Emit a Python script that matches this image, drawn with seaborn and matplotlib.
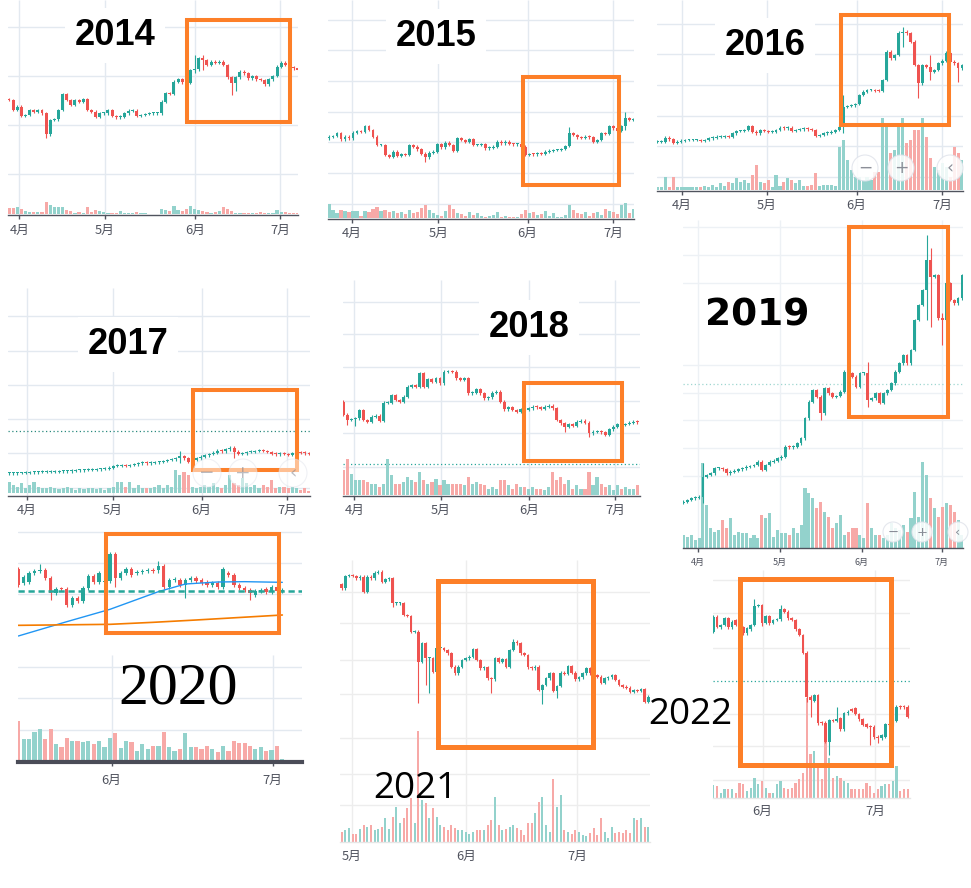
import numpy as np
import matplotlib
matplotlib.use("Agg")
import matplotlib.pyplot as plt
import matplotlib.transforms as mtrans
from matplotlib.patches import Rectangle, Circle
import seaborn as sns

# ---------------------------------------------------------------- data
# prices / volumes are in screen-read units (higher value = higher price)
months_amjj = ['4月', '5月', '6月', '7月']
months_jj = ['6月', '7月']
months_mjj = ['5月', '6月', '7月']

open0_2014 = 703
close_2014 = [700, 670, 680, 652, 655, 670, 665, 670, 660, 597,
              640, 642, 670, 717, 700, 685, 700, 695, 702, 670,
              665, 650, 660, 660, 670, 652, 648, 650, 660, 668,
              668, 652, 655, 658, 660, 660, 660, 695, 720, 718,
              755, 763, 753, 752, 790, 792, 825, 820, 805, 815,
              812, 815, 805, 768, 750, 768, 785, 780, 765, 772,
              762, 760, 747, 762, 772, 800, 812, 805, 797, 795, 790]
vol_2014 = [18, 18, 22, 15, 8, 5, 5, 5, 5, 35,
            28, 22, 20, 20, 12, 8, 4, 5, 3, 22,
            5, 12, 8, 5, 4, 4, 3, 8, 3, 3,
            3, 6, 3, 3, 0, 0, 0, 15, 12, 8,
            25, 12, 8, 15, 25, 15, 12, 10, 5, 3,
            5, 10, 22, 15, 10, 4, 3, 3, 2, 2,
            3, 5, 4, 4, 4, 12, 5, 5, 3, 3, 4]

open0_2015 = 585
close_2015 = [590, 592, 600, 582, 590, 585, 602, 607, 605, 622,
              610, 590, 565, 565, 535, 530, 545, 532, 537, 535,
              565, 560, 552, 538, 528, 542, 545, 568, 558, 572,
              565, 548, 585, 580, 575, 582, 565, 565, 568, 555,
              557, 560, 575, 570, 575, 568, 567, 568, 560, 535,
              538, 537, 540, 538, 545, 548, 550, 550, 553, 562,
              600, 595, 588, 587, 590, 588, 575, 580, 600, 598,
              622, 615, 607, 622, 645, 640, 642]
vol_2015 = [43, 25, 15, 25, 22, 18, 22, 22, 8, 22,
            18, 28, 35, 22, 25, 18, 22, 15, 20, 12,
            25, 15, 18, 30, 40, 25, 15, 10, 8, 22,
            40, 28, 15, 12, 8, 20, 10, 15, 8, 5,
            8, 10, 18, 5, 8, 5, 5, 5, 12, 25,
            15, 18, 10, 12, 22, 8, 15, 5, 5, 10,
            40, 25, 15, 12, 18, 8, 15, 20, 10, 28,
            22, 18, 12, 40, 45, 15, 28]

open0_2016 = 575
close_2016 = [575, 575, 587, 582, 572, 575, 578, 580, 580, 580,
              580, 577, 580, 585, 587, 590, 590, 592, 590, 600,
              607, 607, 610, 622, 605, 600, 610, 607, 605, 605,
              610, 617, 615, 617, 607, 610, 612, 614, 612, 610,
              592, 595, 600, 602, 605, 610, 620, 680, 682, 684,
              688, 715, 725, 730, 730, 728, 727, 760, 845, 825,
              835, 902, 905, 900, 875, 805, 750, 805, 800, 785,
              790, 810, 818, 842, 815, 810, 795, 805]
vol_2016 = [10, 10, 40, 10, 40, 8, 10, 8, 10, 8,
            10, 8, 12, 10, 15, 8, 20, 12, 25, 20,
            35, 25, 30, 20, 45, 75, 25, 20, 30, 10,
            45, 12, 25, 35, 30, 20, 30, 12, 12, 15,
            50, 12, 15, 15, 15, 12, 130, 150, 90, 60,
            40, 40, 30, 40, 30, 55, 55, 215, 195, 110,
            120, 190, 215, 140, 150, 180, 180, 215, 160, 95,
            70, 60, 80, 70, 40, 130, 110, 90]

open0_2017 = 420
close_2017 = [420, 420, 421, 421, 422, 423, 423, 424, 425, 425,
              425, 425, 426, 426, 426, 428, 429, 429, 430, 431,
              431, 432, 433, 434, 437, 442, 443, 444, 442, 445,
              447, 450, 452, 450, 452, 453, 454, 457, 460, 462,
              465, 472, 465, 455, 460, 465, 470, 474, 478, 482,
              488, 486, 492, 497, 485, 478, 480, 484, 485, 487,
              488, 487, 484, 479, 477, 479, 478, 475, 481, 483,
              482, 480, 479]
vol_2017 = [35, 25, 20, 30, 15, 25, 35, 20, 15, 15,
            20, 15, 12, 15, 20, 15, 10, 15, 12, 15,
            15, 12, 15, 10, 15, 20, 35, 35, 20, 35,
            15, 25, 15, 15, 15, 20, 25, 15, 25, 20,
            70, 55, 65, 55, 20, 15, 20, 25, 20, 30,
            20, 15, 25, 55, 30, 25, 45, 30, 20, 25,
            15, 25, 20, 40, 15, 20, 20, 15, 20, 15,
            10, 15, 8]

open0_2018 = 605
close_2018 = [565, 550, 552, 555, 580, 550, 545, 560, 563, 548,
              602, 602, 625, 610, 605, 620, 650, 655, 650, 690,
              650, 672, 665, 675, 660, 695, 697, 695, 675, 670,
              675, 630, 632, 642, 630, 615, 618, 632, 635, 605,
              582, 588, 580, 575, 582, 580, 585, 590, 588, 584,
              590, 593, 585, 550, 540, 530, 538, 532, 545, 548,
              542, 510, 515, 515, 513, 505, 522, 530, 538, 535,
              538, 542, 545, 543]
vol_2018 = [75, 110, 65, 45, 45, 45, 40, 35, 35, 25,
            35, 110, 60, 35, 35, 40, 55, 45, 40, 70,
            45, 35, 40, 50, 30, 45, 35, 35, 35, 35,
            30, 55, 35, 40, 35, 30, 20, 25, 20, 45,
            45, 30, 20, 35, 25, 25, 20, 25, 20, 20,
            15, 25, 70, 45, 55, 35, 45, 20, 30, 20,
            20, 70, 30, 55, 35, 25, 30, 15, 30, 20,
            25, 20, 20, 30]

open0_2019 = 152
close_2019 = [155, 160, 165, 167, 170, 230, 235, 240, 255, 255,
              252, 240, 245, 248, 252, 255, 260, 262, 265, 275,
              250, 265, 275, 278, 285, 290, 320, 318, 320, 330,
              345, 405, 455, 490, 470, 420, 495, 480, 470, 472,
              485, 545, 540, 530, 500, 540, 540, 460, 465, 480,
              452, 480, 490, 510, 545, 570, 595, 570, 610, 700,
              745, 790, 880, 830, 835, 705, 700, 810, 760, 750,
              765, 835]
vol_2019 = [40, 35, 40, 25, 30, 255, 130, 60, 50, 55,
            85, 60, 90, 40, 50, 45, 45, 30, 40, 30,
            100, 90, 105, 35, 55, 45, 45, 40, 60, 45,
            70, 180, 165, 150, 120, 140, 110, 95, 60, 75,
            100, 40, 50, 60, 60, 40, 30, 135, 60, 40,
            40, 30, 40, 75, 60, 55, 70, 50, 90, 170,
            95, 260, 220, 150, 120, 95, 125, 135, 130, 110,
            85, 40]

open_2020 = [852, 810, 815, 840, 847, 850, 825, 780, 793, 793,
             745, 765, 758, 795, 832, 815, 815, 817, 897, 825,
             840, 852, 840, 843, 847, 850, 850, 862, 800, 820,
             820, 805, 820, 827, 820, 815, 805, 812, 800, 842,
             835, 805, 797, 790, 775, 787, 792, 785, 798, 788]
close_2020 = [805, 830, 840, 847, 850, 825, 780, 793, 792, 745,
              765, 758, 795, 832, 815, 842, 817, 897, 825, 840,
              852, 835, 843, 847, 850, 848, 862, 800, 820, 822,
              805, 820, 827, 817, 812, 805, 812, 800, 852, 835,
              805, 797, 790, 782, 787, 790, 785, 798, 788, 790]
vol_2020 = [120, 65, 65, 85, 95, 65, 95, 50, 40, 68,
            58, 58, 55, 60, 50, 58, 40, 68, 82, 38,
            60, 55, 30, 50, 35, 45, 45, 85, 40, 30,
            35, 82, 42, 40, 35, 45, 35, 25, 45, 28,
            58, 52, 52, 45, 35, 40, 30, 32, 45, 5]
ma_fast_at = [0, 9, 17, 26, 31, 37, 42, 49]
ma_fast_2020 = [652, 695, 732, 785, 808, 814, 815, 813]
ma_slow_at = [0, 17, 25, 33, 49]
ma_slow_2020 = [684, 687, 693, 700, 715]

open0_2021 = 928
close_2021 = [915, 952, 955, 952, 945, 950, 905, 950, 945, 962,
              965, 935, 942, 945, 870, 870, 870, 835, 832, 785,
              785, 695, 750, 705, 705, 665, 735, 735, 730, 720,
              680, 660, 680, 700, 705, 710, 732, 700, 675, 678,
              645, 642, 705, 695, 702, 680, 730, 755, 750, 720,
              715, 678, 675, 680, 610, 625, 645, 660, 608, 622,
              662, 658, 682, 662, 642, 648, 660, 675, 660, 655,
              650, 632, 645, 648, 655, 640, 625, 620, 617, 605,
              610, 608, 612, 575, 590]
vol_2021 = [30, 35, 40, 22, 22, 38, 50, 45, 50, 35,
            38, 45, 70, 38, 75, 105, 55, 70, 100, 130,
            55, 333, 125, 115, 70, 100, 75, 50, 45, 35,
            50, 40, 35, 35, 30, 22, 30, 35, 35, 35,
            50, 65, 133, 50, 35, 38, 45, 50, 40, 35,
            20, 55, 55, 85, 118, 133, 50, 30, 187, 105,
            140, 35, 30, 22, 35, 30, 20, 18, 25, 40,
            20, 72, 30, 12, 45, 25, 30, 25, 35, 25,
            70, 65, 70, 45, 45]

open_2022 = [815, 860, 828, 835, 855, 828, 850, 830, 828, 810,
             822, 835, 892, 895, 842, 862, 842, 850, 852, 882,
             875, 855, 850, 822, 805, 752, 620, 608, 625, 542,
             542, 485, 550, 548, 555, 522, 570, 582, 585, 568,
             552, 538, 532, 530, 500, 495, 500, 538, 535, 548,
             590, 590, 590]
close_2022 = [860, 830, 835, 855, 828, 845, 835, 810, 810, 825,
              835, 892, 895, 842, 862, 840, 850, 852, 882, 875,
              855, 850, 822, 805, 752, 620, 610, 625, 540, 540,
              485, 550, 548, 552, 522, 570, 575, 578, 568, 552,
              535, 530, 530, 498, 495, 505, 538, 535, 548, 590,
              588, 588, 560]
vol_2022 = [38, 35, 15, 25, 25, 25, 15, 45, 40, 20,
            28, 60, 40, 50, 30, 15, 15, 40, 50, 30,
            25, 30, 45, 55, 75, 300, 130, 140, 95, 55,
            190, 120, 60, 65, 60, 50, 45, 25, 25, 25,
            25, 45, 35, 15, 25, 35, 40, 40, 50, 95,
            20, 25, 25]

# ---------------------------------------------------------------- style
W, H = 971, 888
UP, DOWN = '#26a69a', '#ef5350'
UP_V, DOWN_V = '#93d2cc', '#f7a9a7'
GRID = '#e3e9f0'
GRID2 = '#ededed'
ORANGE = '#fd7f28'
LABC = '#50535e'

sns.set_theme(style="white")
plt.rcParams['font.family'] = ['Noto Sans CJK JP', 'DejaVu Sans']

fig = plt.figure(figsize=(W / 100, H / 100), dpi=100)
fig.patch.set_facecolor('white')
px = mtrans.Affine2D().scale(1, -1).translate(0, H)  # figure pixels, y from top

panels = [
    dict(crop=(0, 0), box=(8, 298, 0, 215), zx=(27, 893), open0=open0_2014, close=close_2014,
         vol=vol_2014, vbase=642, grid=[82, 228, 375, 522], ticks=[58, 315, 585, 840],
         labels=months_amjj, laby=229,
         wicks={9: (585, 660), 45: (780, 835), 47: (790, 835), 54: (715, 768), 55: (728, 770)}),
    dict(crop=(320, 0), box=(328, 634, 0, 219), zx=(27, 940), open0=open0_2015, close=close_2015,
         vol=vol_2015, vbase=655, grid=[60, 150, 243, 335, 427, 520, 612], ticks=[95, 355, 623, 880],
         labels=months_amjj, laby=232,
         wicks={24: (515, 545), 60: (560, 620), 74: (610, 665)}),
    dict(crop=(650, 0), box=(657, 963, 0, 191), zx=(22, 936), open0=open0_2016, close=close_2016,
         vol=vol_2016, vbase=570, grid=[72, 162, 255, 348, 438, 530], ticks=[95, 350, 620, 877],
         labels=months_amjj, laby=204,
         wicks={47: (600, 715), 62: (860, 920), 66: (705, 800), 69: (760, 835), 76: (755, 810)}),
    dict(crop=(0, 280), box=(8, 310, 288, 496), zx=(27, 927), open0=open0_2017, close=close_2017,
         vol=vol_2017, vbase=640, grid=[108, 212, 316, 418, 520, 625], ticks=[80, 338, 605, 862],
         labels=months_amjj, laby=509, dotted=(453, '#2a8a7e'),
         wicks={41: (450, 488), 43: (452, 470), 54: (465, 500)}),
    dict(crop=(320, 270), box=(343, 640, 280, 496), zx=(70, 952), open0=open0_2018, close=close_2018,
         vol=vol_2018, vbase=676, grid=[95, 193, 292, 392, 490, 590], ticks=[103, 362, 628, 886],
         labels=months_amjj, laby=509, dotted=(583, '#26a69a'),
         wicks={1: (535, 570), 3: (532, 560), 55: (515, 540), 61: (500, 520)}),
    dict(crop=(670, 220), box=(683, 963, 220, 548), zx=(40, 876), open0=open0_2019, close=close_2019,
         vol=vol_2019, vbase=985, grid=[20, 105, 188, 435, 520, 600, 685, 767], ticks=[85, 330, 575, 815],
         labels=months_amjj, laby=561, labfs=6.5, dotted=(493, '#9fd6d0'), grid_color='#edf1f5',
         wicks={5: (150, 270), 35: (400, 470), 47: (440, 575), 62: (700, 955), 63: (680, 915),
                66: (625, 720)}),
    dict(crop=(0, 520), box=(18, 302, 530, 762), zx=(55, 847), open=open_2020, close=close_2020,
         vol=vol_2020, vbase=722, grid=[35, 130, 222, 440, 535, 630], ticks=[335, 818],
         labels=months_jj, laby=779, vspan=(405, 727), bw=0.62, wick=6, axis=('#4a4c57', 3.0),
         wicks={4: (845, 867), 6: (760, 830), 9: (742, 795), 18: (800, 900), 26: (840, 878),
                31: (765, 815), 38: (800, 855), 43: (760, 792)}),
    dict(crop=(330, 560), box=(340, 650, 560, 842), zx=(35, 955), open0=open0_2021, close=close_2021,
         vol=vol_2021, vbase=845, grid=[97, 190, 300, 402, 535, 642, 735], ticks=[65, 408, 742],
         labels=months_mjj, laby=855, grid_color=GRID2, axis=('#e6e6e6', 1.0), tick=False,
         vw=0.55,
         wicks={14: (860, 945), 21: (572, 785), 23: (625, 750), 24: (602, 705), 41: (600, 645),
                55: (568, 625), 59: (585, 625), 47: (745, 762)}),
    dict(crop=(640, 570), box=(713, 910, 570, 798), zx=(220, 803), open=open_2022, close=close_2022,
         vol=vol_2022, vbase=683, grid=[30, 128, 235, 432, 528, 630], ticks=[368, 705],
         labels=months_jj, laby=810, dotted=(333, '#26a69a'), grid_color=GRID2,
         axis=('#e6e6e6', 1.0), tick=False, vw=0.6,
         wicks={11: (835, 912), 13: (832, 895), 18: (850, 895), 25: (605, 752), 26: (560, 620),
                28: (535, 625), 31: (445, 552), 33: (548, 590), 42: (475, 532), 44: (480, 500),
                48: (535, 585)}),
]


def draw_panel(cfg):
    ox, oy = cfg['crop']
    L, R, T, B = cfg['box']
    ax = fig.add_axes([L / W, 1 - B / H, (R - L) / W, (B - T) / H])
    ax.patch.set_alpha(0)
    closes = np.asarray(cfg['close'], float)
    n = len(closes)
    if 'open' in cfg:
        opens = np.asarray(cfg['open'], float)
    else:
        opens = np.r_[cfg['open0'], closes[:-1]]
    vol = np.asarray(cfg['vol'], float)
    assert len(opens) == n and len(vol) == n, (n, len(opens), len(vol))
    zx0, zx1 = cfg['zx']
    step = (zx1 - zx0) / (n - 1)

    def idx(zx):
        return (np.asarray(zx, float) - zx0) / step

    ax.set_xlim(idx(3 * (L - ox)), idx(3 * (R - ox)))
    ax.set_ylim(1000 - 3 * (B - oy), 1000 - 3 * (T - oy))
    gc = cfg.get('grid_color', GRID)
    for zy in cfg['grid']:
        ax.axhline(1000 - zy, color=gc, lw=1.0, zorder=0)
    vt, vb = cfg.get('vspan', (3 * (T - oy), 3 * (B - oy)))
    ax.vlines(idx(cfg['ticks']), 1000 - vb, 1000 - vt, color=gc, lw=1.0, zorder=0)
    if 'dotted' in cfg:
        zy, c = cfg['dotted']
        ax.axhline(1000 - zy, color=c, lw=0.9, ls=(0, (1, 2)), zorder=1)

    x = np.arange(n)
    up = closes >= opens
    ax.bar(x, vol, bottom=1000 - cfg['vbase'], width=cfg.get('vw', 0.78),
           color=np.where(up, UP_V, DOWN_V), linewidth=0, zorder=1)

    w = cfg.get('wick', 4)
    hi = np.maximum(opens, closes) + w
    lo = np.minimum(opens, closes) - w
    for i, (l, h) in cfg.get('wicks', {}).items():
        lo[i] = min(lo[i], l)
        hi[i] = max(hi[i], h)
    cols = np.where(up, UP, DOWN)
    ax.vlines(x, lo, hi, colors=cols, lw=0.8, zorder=2)
    body = np.maximum(np.abs(closes - opens), 3.0)
    ax.bar(x, body, bottom=np.minimum(opens, closes), width=cfg.get('bw', 0.72),
           color=cols, linewidth=0, zorder=3)

    for s in ['top', 'left', 'right']:
        ax.spines[s].set_visible(False)
    ac, alw = cfg.get('axis', (LABC, 1.0))
    ax.spines['bottom'].set_color(ac)
    ax.spines['bottom'].set_linewidth(alw)
    ax.set_yticks([])
    ax.set_xticks(idx(cfg['ticks']))
    ax.set_xticklabels([])
    if cfg.get('tick', True):
        ax.tick_params(axis='x', length=3, width=1, color=LABC, direction='out', bottom=True)
    else:
        ax.tick_params(axis='x', length=0)
    tr = mtrans.blended_transform_factory(ax.transData, px)
    fs = cfg.get('labfs', 9.3)
    for t, lab in zip(idx(cfg['ticks']), cfg['labels']):
        ax.text(t, cfg['laby'] + fs * 0.55, lab, transform=tr, ha='center', va='baseline',
                fontsize=fs, color=LABC, family=['Noto Sans CJK JP', 'DejaVu Sans'], clip_on=False)
    return ax, idx


axes = [draw_panel(p) for p in panels]

# moving averages and dashed line in the 2020 panel
ax20, idx20 = axes[6]
sns.lineplot(x=ma_fast_at, y=ma_fast_2020, ax=ax20, color='#2196f3', lw=1.0, zorder=4)
sns.lineplot(x=ma_slow_at, y=ma_slow_2020, ax=ax20, color='#f57c00', lw=1.2, zorder=4)
ax20.axhline(1000 - 212, color='#26a69a', lw=1.8, ls=(0, (2.5, 1.5)), zorder=4)

# ---------------------------------------------------------------- overlay
ov = fig.add_axes([0, 0, 1, 1], zorder=10)
ov.set_xlim(0, W)
ov.set_ylim(H, 0)
ov.axis('off')
ov.patch.set_alpha(0)

rects = [((187, 20, 290, 122), 2.9), ((523, 77, 619, 185), 2.9), ((841, 15, 949, 125), 2.9),
         ((193, 390, 297, 470), 2.9), ((524, 383, 622, 461), 2.9), ((849, 227, 948, 417), 2.9),
         ((106, 534, 279, 633), 2.9), ((438, 581, 593, 747), 3.6), ((740, 579, 891, 765), 3.6)]
for (x0, y0, x1, y1), lw in rects:
    ov.add_patch(Rectangle((x0, y0), x1 - x0, y1 - y0, fill=False, ec=ORANGE, lw=lw,
                           joinstyle='miter'))

buttons = [((865, 168), 13, 0.85), ((901, 168), 13, 0.85), ((950, 168), 13, 0.85),
           ((207, 473), 14, 0.5), ((243, 473), 14, 0.5), ((293, 473), 14, 0.5),
           ((893, 532), 10, 0.85), ((922, 532), 10, 0.85), ((958, 532), 10, 0.85)]
symbols = ['−', '+', '‹'] * 3
for ((cx, cy), r, a), sym in zip(buttons, symbols):
    ov.add_patch(Circle((cx, cy), r, fc='white', ec='#e0e3eb', lw=0.8, alpha=a))
    ov.text(cx, cy, sym, ha='center', va='center', fontsize=r * 0.95, color='#787b86',
            alpha=a, family='DejaVu Sans')

bold = dict(family='Liberation Sans', weight='bold', size=26.2, color='black')
titles = [("2014", 115, 45, bold, True), ("2015", 436, 46, bold, True),
          ("2016", 765, 55, bold, True), ("2017", 128, 354, bold, True),
          ("2018", 529, 337, bold, True),
          ("2019", 757, 325, dict(family='DejaVu Sans', weight='bold', size=27, color='black'), False),
          ("2020", 178, 703, dict(family='Liberation Serif', size=43, color='black'), False),
          ("2021", 415, 798, dict(family='Open Sans', size=26.5, color='black'), False),
          ("2022", 690, 724, dict(family='Open Sans', size=26.5, color='black'), False)]
for s, xc, yb, style, boxed in titles:
    kw = dict(bbox=dict(facecolor='white', edgecolor='none', pad=7)) if boxed else {}
    fig.text(xc, yb, s, transform=px, ha='center', va='baseline', zorder=5, **style, **kw)

fig.savefig('out.png', dpi=100, facecolor='white')
